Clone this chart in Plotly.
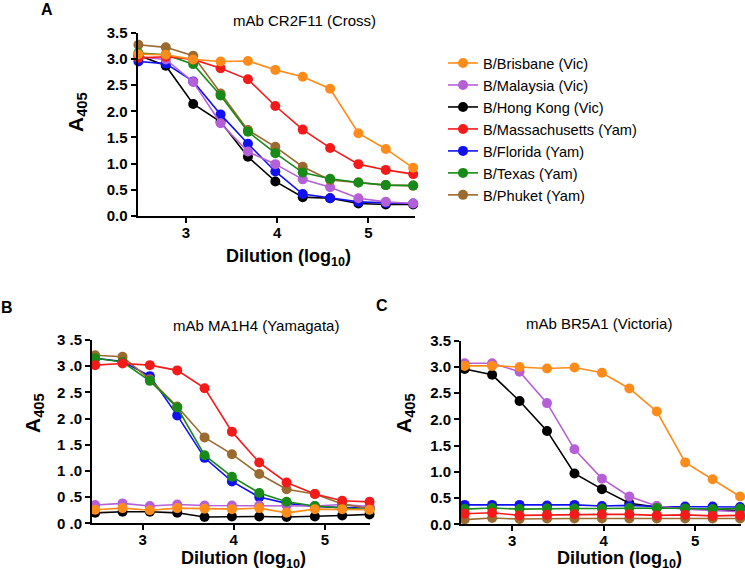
import plotly.graph_objects as go

# ---------------- data ----------------
dilution_log10 = [2.48, 2.78, 3.08, 3.38, 3.68, 3.98, 4.28, 4.58, 4.89, 5.19, 5.49]

strains = ["B/Brisbane (Vic)", "B/Malaysia (Vic)", "B/Hong Kong (Vic)",
           "B/Massachusetts (Yam)", "B/Florida (Yam)", "B/Texas (Yam)", "B/Phuket (Yam)"]
colors = ["#FF8C1A", "#B660D8", "#000000", "#F41A1A", "#1010F0", "#178A17", "#9A6A2E"]

# Panel A: mAb CR2F11 (Cross)
a_brisbane = [3.09, 3.08, 2.99, 2.95, 2.96, 2.79, 2.66, 2.43, 1.58, 1.28, 0.92]
a_malaysia = [3.04, 2.99, 2.56, 1.77, 1.23, 0.99, 0.70, 0.55, 0.34, 0.27, 0.24]
a_hongkong = [3.07, 2.87, 2.14, 1.80, 1.13, 0.66, 0.36, 0.34, 0.24, 0.22, 0.22]
a_massachusetts = [3.02, 3.04, 2.99, 2.82, 2.61, 2.10, 1.65, 1.30, 0.99, 0.88, 0.80]
a_florida = [2.95, 2.91, 2.57, 1.94, 1.38, 0.85, 0.42, 0.34, 0.27, 0.25, 0.24]
a_texas = [3.11, 3.08, 2.90, 2.30, 1.61, 1.20, 0.83, 0.71, 0.64, 0.59, 0.58]
a_phuket = [3.27, 3.22, 3.06, 2.34, 1.64, 1.32, 0.94, 0.69, 0.64, 0.59, 0.58]

# Panel B: mAb MA1H4 (Yamagata)
b_brisbane = [0.26, 0.29, 0.25, 0.29, 0.28, 0.27, 0.29, 0.20, 0.27, 0.27, 0.26]
b_malaysia = [0.35, 0.38, 0.33, 0.36, 0.34, 0.34, 0.34, 0.34, 0.33, 0.36, 0.32]
b_hongkong = [0.20, 0.22, 0.22, 0.20, 0.12, 0.13, 0.13, 0.12, 0.13, 0.15, 0.17]
b_massachusetts = [3.02, 3.05, 3.02, 2.92, 2.58, 1.75, 1.16, 0.78, 0.56, 0.43, 0.41]
b_florida = [3.15, 3.09, 2.81, 2.06, 1.25, 0.80, 0.50, 0.38, 0.32, 0.30, 0.30]
b_texas = [3.15, 3.08, 2.72, 2.21, 1.30, 0.89, 0.58, 0.41, 0.33, 0.29, 0.26]
b_phuket = [3.21, 3.18, 2.75, 2.23, 1.64, 1.32, 0.94, 0.65, 0.56, 0.37, 0.28]

# Panel C: mAb BR5A1 (Victoria)
c_brisbane = [3.02, 3.02, 3.00, 2.97, 2.99, 2.89, 2.59, 2.15, 1.18, 0.86, 0.53]
c_malaysia = [3.07, 3.07, 2.91, 2.31, 1.43, 0.87, 0.53, 0.35, 0.29, 0.26, 0.24]
c_hongkong = [2.96, 2.85, 2.35, 1.78, 0.97, 0.67, 0.40, 0.33, 0.30, 0.28, 0.26]
c_massachusetts = [0.20, 0.22, 0.17, 0.18, 0.19, 0.19, 0.19, 0.17, 0.18, 0.16, 0.17]
c_florida = [0.37, 0.37, 0.37, 0.36, 0.37, 0.35, 0.36, 0.34, 0.34, 0.34, 0.33]
c_texas = [0.29, 0.31, 0.29, 0.30, 0.30, 0.30, 0.31, 0.31, 0.30, 0.29, 0.30]
c_phuket = [0.09, 0.12, 0.10, 0.11, 0.11, 0.11, 0.11, 0.11, 0.11, 0.11, 0.11]

panel_titles = ["mAb CR2F11 (Cross)", "mAb MA1H4 (Yamagata)", "mAb BR5A1 (Victoria)"]
y_ticks = [0, 0.5, 1.0, 1.5, 2.0, 2.5, 3.0, 3.5]
y_ticktext = ["0.0", "0.5", "1.0", "1.5", "2.0", "2.5", "3.0", "3.5"]
y_ticktext_b = ["0 .0", "0 .5", "1 .0", "1 .5", "2 .0", "2 .5", "3 .0", "3 .5"]
x_ticks = [3, 4, 5]

panels = [
    [a_brisbane, a_malaysia, a_hongkong, a_massachusetts, a_florida, a_texas, a_phuket],
    [b_brisbane, b_malaysia, b_hongkong, b_massachusetts, b_florida, b_texas, b_phuket],
    [c_brisbane, c_malaysia, c_hongkong, c_massachusetts, c_florida, c_texas, c_phuket],
]

# ---------------- figure ----------------
W, H = 745, 575
FONT = "Liberation Sans, Arial, sans-serif"
draw_order = [2, 4, 1, 6, 5, 3, 0]  # back to front

fig = go.Figure()
axis_ids = [("x", "y"), ("x2", "y2"), ("x3", "y3")]
for p, series in enumerate(panels):
    xa, ya = axis_ids[p]
    for i in draw_order:
        fig.add_trace(go.Scatter(
            x=dilution_log10, y=series[i], xaxis=xa, yaxis=ya,
            mode="lines+markers", name=strains[i],
            line=dict(color=colors[i], width=1.6),
            marker=dict(color=colors[i], size=10),
            showlegend=(p == 0), legendrank=i + 1, cliponaxis=False,
        ))

def px_x(v):
    return v / W

def px_y(v):
    return 1 - v / H

# domains (pixel based)
dom = [
    dict(x=(137.5, 415), y=(32.7, 216), xr=(2.47, 5.51)),
    dict(x=(92, 370), y=(340, 523.3), xr=(2.445, 5.495)),
    dict(x=(461, 741), y=(340.7, 524.3), xr=(2.44, 5.5)),
]

common_axis = dict(showline=True, linecolor="black", linewidth=2, ticks="outside",
                   ticklen=5, tickwidth=2, tickcolor="black", showgrid=False,
                   zeroline=False, mirror=False, automargin=False,
                   tickfont=dict(family=FONT, size=15, color="black", weight="bold"))

layout = dict(width=W, height=H, margin=dict(l=0, r=0, t=0, b=0, autoexpand=False),
              paper_bgcolor="white", plot_bgcolor="white",
              font=dict(family=FONT, color="black"))
for p, d in enumerate(dom):
    xk = "xaxis" if p == 0 else f"xaxis{p+1}"
    yk = "yaxis" if p == 0 else f"yaxis{p+1}"
    ya = "y" if p == 0 else f"y{p+1}"
    xa = "x" if p == 0 else f"x{p+1}"
    layout[xk] = dict(common_axis, domain=[px_x(d["x"][0]), px_x(d["x"][1])],
                      range=list(d["xr"]), tickvals=x_ticks, anchor=ya,
                      ticklabelstandoff=-3)
    layout[yk] = dict(common_axis, domain=[px_y(d["y"][1]), px_y(d["y"][0])],
                      range=[0, 3.5], tickvals=y_ticks,
                      ticktext=(y_ticktext_b if p == 1 else y_ticktext), anchor=xa)

layout["legend"] = dict(x=px_x(443), y=px_y(47), xanchor="left", yanchor="top",
                        font=dict(family=FONT, size=14.6, color="black"),
                        tracegroupgap=0, itemwidth=30, bgcolor="rgba(0,0,0,0)")

annotations = []
# panel letters
for txt, x, y in [("A", 47, 9), ("B", 7, 308), ("C", 382, 305)]:
    annotations.append(dict(text=f"<b>{txt}</b>", x=px_x(x), y=px_y(y), xref="paper", yref="paper",
                            showarrow=False, xanchor="center", yanchor="middle",
                            font=dict(family=FONT, size=16, color="black")))
# panel titles
for txt, x, y in zip(panel_titles, [304, 256, 599], [20, 325, 323]):
    annotations.append(dict(text=txt, x=px_x(x), y=px_y(y), xref="paper", yref="paper",
                            showarrow=False, xanchor="center", yanchor="middle",
                            font=dict(family=FONT, size=15, color="black")))
# y titles
for x, y in [(77, 112), (34, 413), (405, 413)]:
    annotations.append(dict(text="<b>A<sub>405</sub></b>", x=px_x(x), y=px_y(y), xref="paper", yref="paper",
                            showarrow=False, xanchor="center", yanchor="middle", textangle=-90,
                            font=dict(family=FONT, size=21, color="black")))
# x titles
for x, y in [(288, 257), (243, 559), (619, 559)]:
    annotations.append(dict(text="<b>Dilution (log<sub>10</sub>)</b>", x=px_x(x), y=px_y(y),
                            xref="paper", yref="paper", showarrow=False,
                            xanchor="center", yanchor="middle",
                            font=dict(family=FONT, size=18, color="black")))
layout["annotations"] = annotations

fig.update_layout(**layout)
fig.write_html(
    "out.html",
    config={"displayModeBar": False},
    post_script="document.body.style.margin='0';document.body.style.padding='0';"
                "document.documentElement.style.overflow='hidden';",
)
